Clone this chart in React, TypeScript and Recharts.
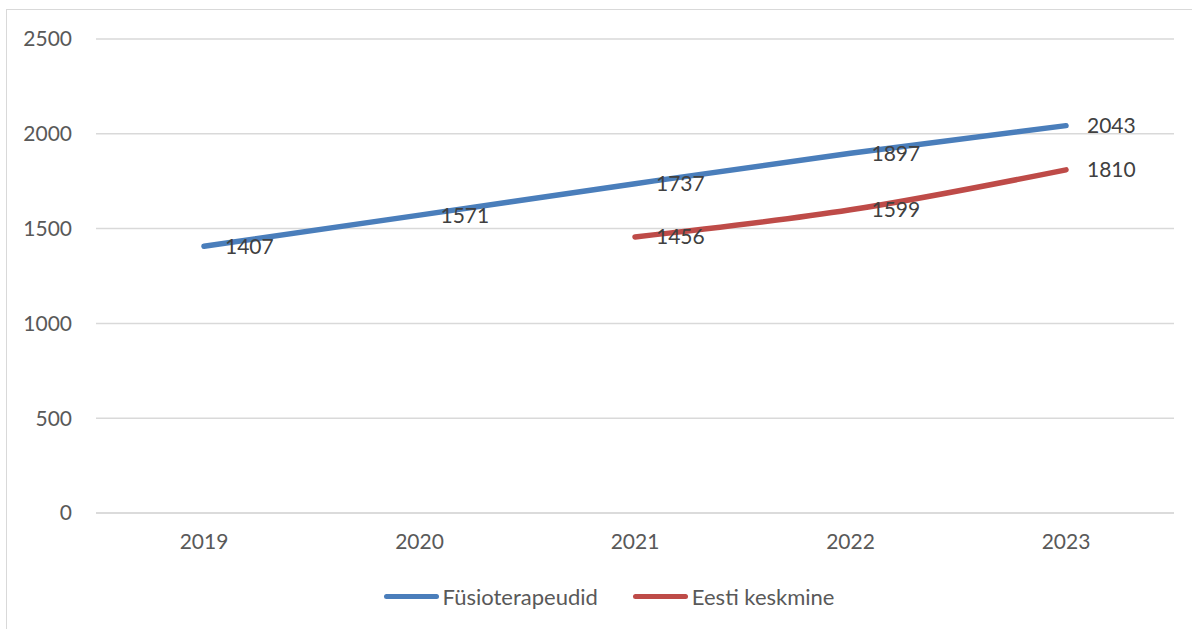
import React from 'react';
import { LineChart, Line, XAxis, YAxis, CartesianGrid, LabelList } from 'recharts';

const years = ['2019', '2020', '2021', '2022', '2023'];
const fysio = [1407, 1571, 1737, 1897, 2043];
const keskmine: (number | null)[] = [null, null, 1456, 1599, 1810];
const yTicks = [0, 500, 1000, 1500, 2000, 2500];

const BLUE = '#4a7ebb';
const RED = '#be4b48';
const FONT = 'Lato, "Open Sans", sans-serif';

const data = years.map((y, i) => ({ year: y, fysio: fysio[i], keskmine: keskmine[i] }));

const legendItems = [
  { name: 'Füsioterapeudid', color: BLUE },
  { name: 'Eesti keskmine', color: RED },
];

const App: React.FC = () => {
  return (
    <div style={{ position: 'absolute', left: 0, top: 0, width: 1192, height: 629, background: '#fff', overflow: 'hidden' }}>
      <div style={{ position: 'absolute', left: 6, top: 9, width: 1300, height: 700, border: '1.5px solid #d9d9d9' }} />
      <LineChart width={1192} height={629} data={data} margin={{ top: 39, right: 18, left: 10, bottom: 76 }}>
        <CartesianGrid vertical={false} stroke="#d9d9d9" strokeWidth={1.5} />
        <XAxis
          dataKey="year"
          padding={{ left: 108, right: 108 }}
          axisLine={{ stroke: '#d9d9d9', strokeWidth: 1.5 }}
          tickLine={false}
          tickSize={0}
          tickMargin={21}
          height={40}
          tick={{ fontFamily: FONT, fontSize: 21, fill: '#595959' }}
        />
        <YAxis
          domain={[0, 2500]}
          ticks={yTicks}
          axisLine={false}
          tickLine={false}
          tickSize={0}
          tickMargin={24}
          width={86}
          tick={{ fontFamily: FONT, fontSize: 21, fill: '#595959' }}
        />
        <Line
          dataKey="fysio"
          name="Füsioterapeudid"
          type="monotone"
          stroke={BLUE}
          strokeWidth={5.5}
          strokeLinecap="round"
          dot={false}
          isAnimationActive={false}
        >
          <LabelList dataKey="fysio" position="right" offset={21} style={{ fontFamily: FONT, fontSize: 21, fill: '#404040' }} />
        </Line>
        <Line
          dataKey="keskmine"
          name="Eesti keskmine"
          type="monotone"
          stroke={RED}
          strokeWidth={5.5}
          strokeLinecap="round"
          dot={false}
          isAnimationActive={false}
        >
          <LabelList dataKey="keskmine" position="right" offset={21} style={{ fontFamily: FONT, fontSize: 21, fill: '#404040' }} />
        </Line>
      </LineChart>
      {/* legend drawn beneath the plot */}
      <div style={{ position: 'absolute', top: 583, left: 13, width: 1192, display: 'flex', justifyContent: 'center', fontFamily: FONT, fontSize: 22, color: '#595959' }}>
        {legendItems.map((it, i) => (
          <div key={it.name} style={{ display: 'flex', alignItems: 'center', marginLeft: i ? 35 : 0 }}>
            <span style={{ display: 'inline-block', width: 55, height: 5, borderRadius: 3, background: it.color, marginRight: 4 }} />
            <span>{it.name}</span>
          </div>
        ))}
      </div>
    </div>
  );
};

export default App;
